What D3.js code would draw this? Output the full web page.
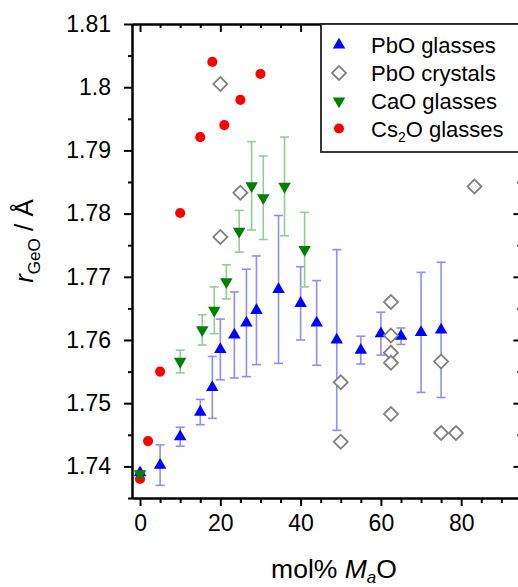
<!DOCTYPE html>
<html><head><meta charset="utf-8">
<script src="https://cdn.jsdelivr.net/npm/d3@7"></script>
<style>
html,body{margin:0;padding:0;background:#fff;}
svg{display:block;font-family:"Liberation Sans",Arial,sans-serif;}
</style></head>
<body><svg id="c" width="518" height="587"></svg>
<script>
// ---- data ----
const pboGlassX   = [0, 5, 10, 15, 18, 20, 23.5, 26.5, 29, 34.5, 40, 44, 49, 55, 60, 65, 70, 75];
const pboGlassY   = [1.7390, 1.7402, 1.7447, 1.7486, 1.7525, 1.7585, 1.7608, 1.7627, 1.7647, 1.7680, 1.7658, 1.7627, 1.7600, 1.7584, 1.7610, 1.7606, 1.7612, 1.7616];
const pboGlassErr = [0, 0.0032, 0.0015, 0.0020, 0.0049, 0.0048, 0.0068, 0.0085, 0.0086, 0.0117, 0.0058, 0.0067, 0.0143, 0.0022, 0.0034, 0.0013, 0.0095, 0.0107];

const pboCrystX = [20, 25, 20, 50, 50, 62.5, 62.5, 62.5, 62.5, 62.5, 75, 75, 78.7, 83.3];
const pboCrystY = [1.8005, 1.7833, 1.7763, 1.7533, 1.7439, 1.7660, 1.7607, 1.7580, 1.7564, 1.7483, 1.7566, 1.7453, 1.7453, 1.7843];

const caoX   = [0, 10, 15.5, 18.5, 21.5, 24.7, 27.8, 30.7, 36, 41];
const caoY   = [1.7388, 1.7566, 1.7616, 1.7647, 1.7692, 1.7772, 1.7844, 1.7825, 1.7843, 1.7743];
const caoErr = [0, 0.0018, 0.0024, 0.0037, 0.0027, 0.0033, 0.0070, 0.0066, 0.0078, 0.0059];

const cs2oX = [0, 2, 5, 10, 15, 18, 21, 25, 30];
const cs2oY = [1.7380, 1.7440, 1.7550, 1.7801, 1.7921, 1.8040, 1.7940, 1.7980, 1.8021];

const xTicks = [0, 20, 40, 60, 80];
const xTickLabels = ["0", "20", "40", "60", "80"];
const yTicks = [1.74, 1.75, 1.76, 1.77, 1.78, 1.79, 1.80, 1.81];
const yTickLabels = ["1.74", "1.75", "1.76", "1.77", "1.78", "1.79", "1.8", "1.81"];
const legendLabels = ["PbO glasses", "PbO crystals", "CaO glasses", "Cs2O glasses"];

// ---- layout ----
const L = 132, R = 521.4, T = 24, B = 498;
const svg = d3.select("#c");
const x = d3.scaleLinear().domain([-2, 95]).range([L, R]);
const y = d3.scaleLinear().domain([1.735, 1.81]).range([B, T]);

const xMinor = d3.range(0, 95, 5).filter(v => !xTicks.includes(v));
const yMinor = d3.range(1.735, 1.8101, 0.005).map(v => +v.toFixed(3)).filter(v => !yTicks.some(t => Math.abs(t - v) < 1e-6));

function styleAxis(g) {
  g.select(".domain").attr("stroke", "#000").attr("stroke-width", 2);
  g.selectAll(".tick line").attr("stroke", "#000").attr("stroke-width", 2);
  g.selectAll("text").attr("font-size", 23).attr("fill", "#000").attr("font-family", "Liberation Sans, Arial, sans-serif");
}

// bottom
svg.append("g").attr("transform", `translate(0,${B})`)
  .call(d3.axisBottom(x).tickValues(xMinor).tickSize(5).tickFormat("").tickSizeOuter(0)).call(styleAxis);
svg.append("g").attr("transform", `translate(0,${B})`)
  .call(d3.axisBottom(x).tickValues(xTicks).tickSize(8).tickPadding(9).tickSizeOuter(0)
    .tickFormat((d, i) => xTickLabels[i])).call(styleAxis);
// top
svg.append("g").attr("transform", `translate(0,${T})`)
  .call(d3.axisTop(x).tickValues(xMinor).tickSize(-4).tickFormat("").tickSizeOuter(0)).call(styleAxis);
svg.append("g").attr("transform", `translate(0,${T})`)
  .call(d3.axisTop(x).tickValues(xTicks).tickSize(-8).tickFormat("").tickSizeOuter(0)).call(styleAxis);
// left
svg.append("g").attr("transform", `translate(${L},0)`)
  .call(d3.axisLeft(y).tickValues(yMinor).tickSize(4).tickFormat("").tickSizeOuter(0)).call(styleAxis);
svg.append("g").attr("transform", `translate(${L},0)`)
  .call(d3.axisLeft(y).tickValues(yTicks).tickSize(8).tickPadding(13).tickSizeOuter(0)
    .tickFormat((d, i) => yTickLabels[i])).call(styleAxis);
// right
svg.append("g").attr("transform", `translate(${R},0)`)
  .call(d3.axisRight(y).tickValues(yMinor).tickSize(-4).tickFormat("").tickSizeOuter(0)).call(styleAxis);
svg.append("g").attr("transform", `translate(${R},0)`)
  .call(d3.axisRight(y).tickValues(yTicks).tickSize(-8).tickFormat("").tickSizeOuter(0)).call(styleAxis);

// ---- error bars ----
function errorBars(xs, ys, es, color) {
  const g = svg.append("g").attr("stroke", color).attr("stroke-width", 1.6).attr("fill", "none");
  xs.forEach((xv, i) => {
    if (!es[i]) return;
    const cx = x(xv), y1 = y(ys[i] + es[i]), y2 = y(ys[i] - es[i]);
    g.append("line").attr("x1", cx).attr("x2", cx).attr("y1", y1).attr("y2", y2);
    g.append("line").attr("x1", cx - 4.5).attr("x2", cx + 4.5).attr("y1", y1).attr("y2", y1);
    g.append("line").attr("x1", cx - 4.5).attr("x2", cx + 4.5).attr("y1", y2).attr("y2", y2);
  });
}

const triUp = d3.symbol(d3.symbolTriangle, 68);
const circ = d3.symbol(d3.symbolCircle, 80);
const sq = d3.symbol(d3.symbolSquare, 98);

// Cs2O glasses (red circles)
svg.append("g").selectAll("path").data(cs2oX).join("path")
  .attr("d", circ).attr("fill", "#ff0000")
  .attr("transform", (d, i) => `translate(${x(d)},${y(cs2oY[i])})`);

// PbO glasses
errorBars(pboGlassX, pboGlassY, pboGlassErr, "#8d8dff");
svg.append("g").selectAll("path").data(pboGlassX).join("path")
  .attr("d", triUp).attr("fill", "#0000ff")
  .attr("transform", (d, i) => `translate(${x(d)},${y(pboGlassY[i])})`);

// PbO crystals
svg.append("g").selectAll("path").data(pboCrystX).join("path")
  .attr("d", sq).attr("fill", "#fff").attr("stroke", "#808080").attr("stroke-width", 1.8)
  .attr("transform", (d, i) => `translate(${x(d)},${y(pboCrystY[i])}) rotate(45)`);

// CaO glasses
errorBars(caoX, caoY, caoErr, "#94cc94");
svg.append("g").selectAll("path").data(caoX).join("path")
  .attr("d", triUp).attr("fill", "#008000")
  .attr("transform", (d, i) => `translate(${x(d)},${y(caoY[i])}) rotate(180)`);

// ---- legend ----
const lg = svg.append("g");
lg.append("rect").attr("x", 321).attr("y", T).attr("width", R - 321).attr("height", 152 - T)
  .attr("fill", "#fff").attr("stroke", "#222").attr("stroke-width", 1.8);
const rowsY = [45, 73, 101, 128.5];
const legSym = [
  s => s.attr("d", triUp).attr("fill", "#0000ff"),
  s => s.attr("d", sq).attr("fill", "#fff").attr("stroke", "#808080").attr("stroke-width", 1.8),
  s => s.attr("d", triUp).attr("fill", "#008000"),
  s => s.attr("d", circ).attr("fill", "#ff0000")
];
const legRot = ["", " rotate(45)", " rotate(180)", ""];
rowsY.forEach((ry, i) => {
  lg.append("path").call(legSym[i]).attr("transform", `translate(339,${ry})${legRot[i]}`);
  const t = lg.append("text").attr("x", 371).attr("y", ry + 8).attr("font-size", 22).attr("fill", "#000");
  if (i === 3) {
    t.append("tspan").text("Cs");
    t.append("tspan").text("2").attr("font-size", 14).attr("dy", 5);
    t.append("tspan").text("O glasses").attr("dy", -5);
  } else {
    t.text(legendLabels[i]);
  }
});

// ---- axis titles ----
const xt = svg.append("text").attr("x", 334).attr("y", 578).attr("text-anchor", "middle")
  .attr("font-size", 26.5).attr("fill", "#000");
xt.append("tspan").text("mol% ");
xt.append("tspan").text("M").attr("font-style", "italic");
xt.append("tspan").text("a").attr("font-style", "italic").attr("font-size", 17).attr("dy", 5);
xt.append("tspan").text("O").attr("dy", -5);

const yt = svg.append("text").attr("transform", "translate(33,241) rotate(-90)").attr("text-anchor", "middle")
  .attr("font-size", 26).attr("fill", "#000");
yt.append("tspan").text("r").attr("font-style", "italic");
yt.append("tspan").text("GeO").attr("font-size", 17).attr("dy", 7);
yt.append("tspan").text(" / Å").attr("dy", -7);
</script></body></html>
